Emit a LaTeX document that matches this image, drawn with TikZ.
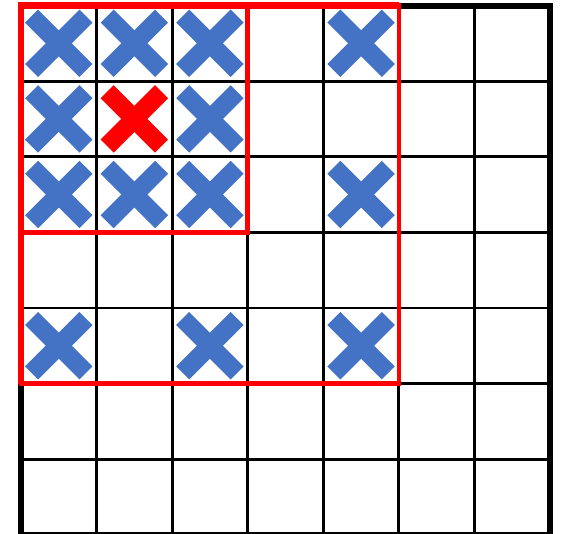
\documentclass[tikz,border=0pt]{standalone}
\definecolor{xblue}{HTML}{4472C4}
\begin{document}
\begin{tikzpicture}[x=1pt,y=-1pt,
  gridline/.style={line width=2.8pt,black},
  frameline/.style={line width=6pt,black},
  redbox/.style={line width=4.5pt,red},
  redframe/.style={line width=6.6pt,red},
  xarm/.style={line width=18.4pt,line cap=butt},
  pics/bigx/.style={code={
    \draw[xarm,#1] (-27.2,-27.2) -- (27.2,27.2);
    \draw[xarm,#1] (-27.2,27.2) -- (27.2,-27.2);
  }}
]
\useasboundingbox (0,0) rectangle (565,533);
\def\sx{75.57}
\def\sy{75.6}
\def\ox{21}
\def\oy{5.5}
% grid
\foreach \i in {1,...,6} {
  \draw[gridline] (\ox+\i*\sx,\oy) -- (\ox+\i*\sx,540);
  \draw[gridline] (\ox,\oy+\i*\sy) -- (\ox+7*\sx,\oy+\i*\sy);
}
\draw[frameline] (\ox,\oy) rectangle (\ox+7*\sx,\oy+7*\sy);
% crosses
\foreach \r/\c in {0/0,0/1,0/2,0/4,1/0,1/2,2/0,2/1,2/2,2/4,4/0,4/2,4/4} {
  \pic at ({\ox+(\c+0.5)*\sx},{\oy+(\r+0.5)*\sy}) {bigx=xblue};
}
\pic at ({\ox+1.5*\sx},{\oy+1.5*\sy}) {bigx=red};
% red boxes
\draw[redbox] (\ox,\oy) rectangle (\ox+5*\sx,\oy+5*\sy);
\draw[redbox] (\ox,\oy) rectangle (\ox+3*\sx,\oy+3*\sy);
\draw[redframe] (\ox,\oy+5*\sy) -- (\ox,\oy) -- (\ox+5*\sx,\oy);
\end{tikzpicture}
\end{document}
